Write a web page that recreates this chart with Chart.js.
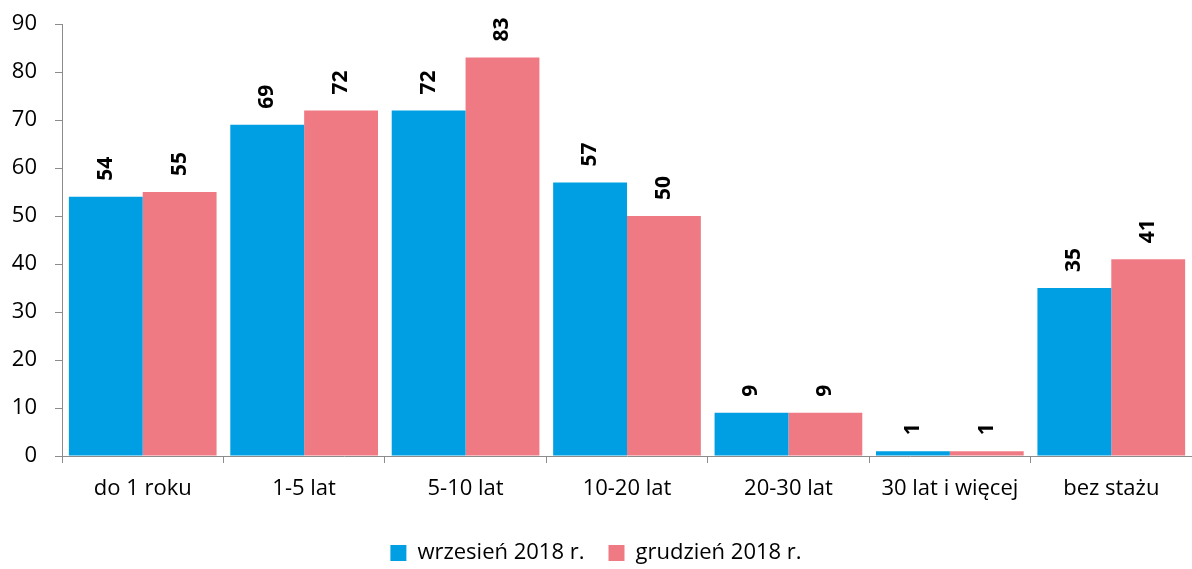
<!DOCTYPE html>
<html>
<head>
<meta charset="utf-8">
<script src="https://cdn.jsdelivr.net/npm/chart.js@4"></script>
<style>
  html, body { margin: 0; padding: 0; background: #fff; }
  #wrap { width: 1192px; height: 569px; }
</style>
</head>
<body>
<div id="wrap"><canvas id="chart" width="1192" height="569"></canvas></div>
<script>
// kategorie a hodnoty
const categories = ["do 1 roku", "1-5 lat", "5-10 lat", "10-20 lat", "20-30 lat", "30 lat i więcej", "bez stażu"];
const wrzesien = [54, 69, 72, 57, 9, 1, 35];
const grudzien = [55, 72, 83, 50, 9, 1, 41];
const seriesNames = ["wrzesień 2018 r.", "grudzień 2018 r."];
const yTicks = [0, 10, 20, 30, 40, 50, 60, 70, 80, 90];

const FONT = "'Open Sans', 'Noto Sans', sans-serif";

// popisky hodnot nad sloupci (otočené)
const valueLabels = {
  id: "valueLabels",
  afterDatasetsDraw(chart) {
    const ctx = chart.ctx;
    ctx.save();
    ctx.font = "bold 21px " + FONT;
    ctx.fillStyle = "#000";
    ctx.textAlign = "left";
    ctx.textBaseline = "middle";
    chart.data.datasets.forEach((ds, i) => {
      chart.getDatasetMeta(i).data.forEach((bar, j) => {
        ctx.save();
        ctx.translate(bar.x, bar.y - 16);
        ctx.rotate(-Math.PI / 2);
        ctx.fillText(String(ds.data[j]), 0, 0);
        ctx.restore();
      });
    });
    ctx.restore();
  },
};

new Chart(document.getElementById("chart"), {
  type: "bar",
  data: {
    labels: categories,
    datasets: [
      { label: seriesNames[0], data: wrzesien, backgroundColor: "#009FE3" },
      { label: seriesNames[1], data: grudzien, backgroundColor: "#F07A84" },
    ],
  },
  options: {
    responsive: false,
    animation: false,
    categoryPercentage: 0.915,
    barPercentage: 1,
    layout: { padding: { top: 24, right: 0, left: 0, bottom: -5 } },
    plugins: {
      legend: {
        position: "bottom",
        labels: {
          font: { family: FONT, size: 22 },
          color: "#000",
          boxWidth: 16,
          boxHeight: 16,
          padding: 24,
        },
      },
      tooltip: { enabled: false },
    },
    scales: {
      x: {
        grid: { offset: true, drawOnChartArea: false, color: "#8c8c8c", tickLength: 7 },
        border: { color: "#8c8c8c" },
        ticks: { font: { family: FONT, size: 22 }, color: "#000", padding: 13 },
        afterFit: (s) => { s.height = 62; },
      },
      y: {
        min: 0,
        max: 90,
        afterBuildTicks: (s) => { s.ticks = yTicks.map((v) => ({ value: v })); },
        grid: { drawOnChartArea: false, color: "#8c8c8c", tickLength: 7 },
        border: { color: "#8c8c8c" },
        ticks: { font: { family: FONT, size: 22 }, color: "#000", padding: 18 },
        afterFit: (s) => {
          s.width = 62;
          s.paddingTop = 0;
          s.paddingBottom = 0;
        },
      },
    },
  },
  plugins: [valueLabels],
});
</script>
</body>
</html>
